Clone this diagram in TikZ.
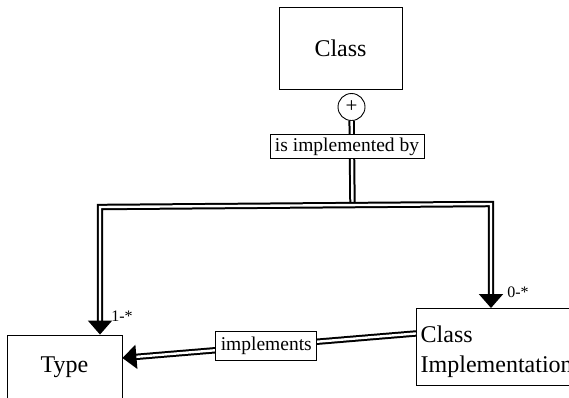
\documentclass[tikz,border=0pt]{standalone}
\usepackage{fontspec}
\setmainfont{Liberation Serif}
\usetikzlibrary{arrows.meta}

\tikzset{
  entity/.style={draw, rectangle, fill=white, line width=0.9pt,
    font=\fontsize{24}{30}\selectfont},
  relname/.style={draw, rectangle, fill=white, line width=0.9pt,
    inner xsep=5pt, inner ysep=2.75pt, font=\fontsize{19.5}{23}\selectfont},
  card/.style={inner sep=0pt, font=\fontsize{16}{18}\selectfont},
  dbl/.style={double, double distance=2.4pt, line width=2pt}
}

\begin{document}
\begin{tikzpicture}[x=1pt, y=-1pt, >={Triangle[width=24pt,length=14pt]}]
\useasboundingbox (0,0) rectangle (569,397);
\clip (0,0) rectangle (569,397);

% entities
\node [entity, minimum width=123pt, minimum height=82pt] (class) at (340.5,48) {Class};
\node [entity, minimum width=115pt, minimum height=64pt] (type) at (64.5,367) {Type};
\node [entity, anchor=north west, minimum width=170pt, minimum height=77pt] (impl) at (416,308) {};
\node [anchor=north west, align=left, inner sep=0pt, font=\fontsize{24}{30}\selectfont] (impl-text) at (420.5,325.5) {Class\\Implementation};

% relationship is implemented by
\node [draw, circle, fill=white, line width=0.9pt, minimum size=27pt, inner sep=0pt,
  font=\fontsize{21}{23}\selectfont] (plus) at (351.5,107) {+};

\coordinate (junction) at (352.5,205);
\coordinate (left-bend) at (100,207);
\coordinate (right-bend) at (491,204);

\draw [dbl] (plus) -- (junction);
\node [relname] (impl-by) at (347,146.5) {is implemented by};

\draw [dbl,<->] (left-bend |- type.north) -- (left-bend) -- (right-bend) -- (right-bend |- impl.north);

\node [card] (card-type) at (122,316) {1-*};
\node [card] (card-impl) at (518,292) {0-*};

% relationship implements
\draw [dbl,->] ([yshift=13.5pt]impl.west) -- ([yshift=9pt]type.east)
  node [relname, pos=0.51, minimum height=29pt] (impl-label) {implements};

\end{tikzpicture}
\end{document}
